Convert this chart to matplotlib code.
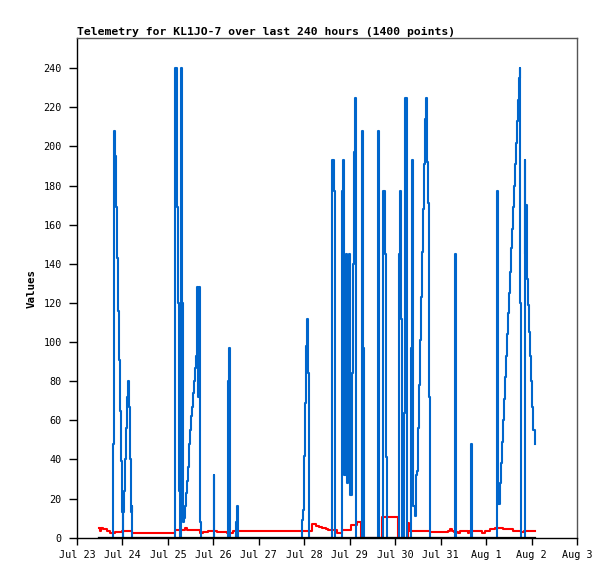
import datetime as dt
import matplotlib
matplotlib.use("Agg")
import matplotlib.pyplot as plt
import matplotlib.dates as mdates
from matplotlib.ticker import FuncFormatter, MultipleLocator

# time offsets in days from Jul 23 00:00
blue_days = [0.49, 0.799, 0.807, 0.821, 0.843, 0.865, 0.887, 0.909, 0.931, 0.953, 0.975, 0.99,
             1.005, 1.019, 1.041, 1.063, 1.085, 1.107, 1.129, 1.151, 1.166, 1.188, 1.203, 1.217,
             2.164, 2.193, 2.208, 2.222, 2.237, 2.252, 2.273, 2.288, 2.31, 2.332, 2.354, 2.376,
             2.398, 2.42, 2.435, 2.457, 2.472, 2.494, 2.516, 2.53, 2.552, 2.574, 2.589, 2.611,
             2.633, 2.662, 2.677, 2.699, 2.713, 2.728,
             3.007, 3.02, 3.33, 3.352, 3.374, 3.506, 3.528, 3.55,
             4.958, 4.98, 4.994, 5.016, 5.031, 5.053, 5.075, 5.097, 5.112,
             5.618, 5.647, 5.684, 5.838, 5.86, 5.882, 5.911, 5.933, 5.955, 5.977, 5.999, 6.029,
             6.051, 6.073, 6.095, 6.117, 6.139, 6.271, 6.3, 6.322, 6.63, 6.652,
             6.74, 6.77, 6.791, 6.813, 7.077, 7.099, 7.129, 7.151, 7.202, 7.224, 7.253, 7.268,
             7.356, 7.378, 7.4, 7.429, 7.451, 7.473, 7.503, 7.525, 7.547, 7.569, 7.591, 7.613,
             7.635, 7.657, 7.671, 7.693, 7.708, 7.73, 7.752, 7.774,
             8.31, 8.331, 8.662, 8.684, 8.698,
             9.234, 9.256, 9.285, 9.307, 9.322, 9.344, 9.366, 9.388, 9.41, 9.432, 9.454, 9.476,
             9.498, 9.52, 9.542, 9.564, 9.586, 9.608, 9.63, 9.652, 9.674, 9.696, 9.718, 9.74,
             9.754, 9.776, 9.85, 9.864, 9.879, 9.894, 9.908, 9.93, 9.952, 9.974, 9.996, 10.018,
             10.04, 10.07, 10.08]
blue_vals = [0, 48, 193, 208, 195, 169, 143, 116, 91, 65, 39, 13,
             0, 13, 24, 40, 56, 72, 80, 67, 40, 13, 16, 0,
             240, 217, 169, 120, 72, 24, 0, 240, 120, 8, 10, 16,
             23, 29, 36, 41, 48, 55, 62, 67, 74, 80, 87, 93,
             128, 72, 128, 112, 8, 0,
             32, 0, 80, 97, 0, 8, 16, 0,
             9, 14, 42, 69, 98, 112, 84, 28, 0,
             193, 177, 0, 177, 193, 32, 145, 28, 128, 145, 22, 22,
             84, 140, 197, 225, 0, 208, 97, 0, 208, 0,
             177, 145, 41, 0, 145, 177, 112, 0, 64, 225, 145, 0,
             97, 193, 16, 11, 32, 34, 56, 78, 101, 123, 146, 168,
             191, 214, 225, 214, 192, 171, 72, 0,
             145, 0, 48, 25, 0,
             177, 17, 17, 28, 38, 49, 60, 71, 82, 93, 104, 115,
             125, 136, 148, 158, 169, 180, 191, 202, 213, 224, 235, 240,
             120, 0, 193, 145, 170, 157, 132, 119, 105, 93, 80, 67,
             55, 48, 48]

red_days = [0.49, 0.51, 0.53, 0.57, 0.65, 0.73, 0.84, 0.98, 1.20, 2.16, 2.38, 2.41, 2.71,
            2.78, 2.89, 3.07, 3.29, 3.44, 3.59, 5.18, 5.26, 5.33, 5.40, 5.47, 5.52, 5.71,
            5.82, 6.02, 6.16, 6.24, 6.71, 7.07, 7.29, 7.31, 7.77, 8.17, 8.21, 8.25, 8.3,
            8.39, 8.42, 8.6, 8.63, 8.92, 8.98, 9.09, 9.2, 9.38, 9.6, 9.77, 9.84, 10.08]
red_vals = [4.8, 3.3, 4.8, 4.4, 3.6, 2.6, 3.1, 3.6, 2.6, 3.9, 4.8, 3.9, 2.6,
            3.1, 3.6, 3.1, 2.6, 3.3, 3.6, 6.8, 6.2, 5.6, 5.0, 4.4, 3.9, 2.5,
            4.0, 6.5, 8.2, 0, 10.8, 0, 7.5, 3.6, 2.8, 3.6, 4.5, 3.6, 3.1,
            2.4, 3.6, 2.6, 3.6, 2.4, 3.6, 4.3, 5.2, 4.3, 3.6, 3.1, 3.6, 3.6]

black_days = [0.49, 10.08]
black_vals = [0, 0]

x_tick_labels = ["Jul 23", "Jul 24", "Jul 25", "Jul 26", "Jul 27", "Jul 28", "Jul 29",
                 "Jul 30", "Jul 31", "Aug 1", "Aug 2", "Aug 3"]

base = mdates.date2num(dt.datetime(2023, 7, 23))

def to_dates(days):
    return [base + d for d in days]

mono = "DejaVu Sans Mono"
fig = plt.figure(figsize=(6.15, 5.79), dpi=100)
ax = fig.add_axes([77 / 615, (579 - 537.7) / 579, 500 / 615, (537.7 - 38.3) / 579])

ax.plot(to_dates(red_days), red_vals, color="#ff0000", lw=1.5, drawstyle="steps-post", zorder=2)
ax.plot(to_dates(blue_days), blue_vals, color="#0066cc", lw=1.5, drawstyle="steps-post", zorder=3)
ax.plot(to_dates(black_days), black_vals, color="#000000", lw=1.6, zorder=4)

ax.set_xlim(base, base + 11)
ax.set_ylim(0, 255.3)
ax.set_xticks([base + i for i in range(len(x_tick_labels))])
ax.set_xticklabels(x_tick_labels)
ax.yaxis.set_major_locator(MultipleLocator(20))
ax.set_yticks(range(0, 241, 20))

for lab in ax.get_xticklabels() + ax.get_yticklabels():
    lab.set_fontfamily(mono)
    lab.set_fontsize(7.3)
ax.tick_params(axis="x", direction="out", length=5, width=1, pad=4, colors="black")
ax.tick_params(axis="y", direction="out", length=5.8, width=1, pad=5.2, colors="black")

for side in ["left", "bottom"]:
    ax.spines[side].set_color("black")
    ax.spines[side].set_linewidth(1)
for side in ["top", "right"]:
    ax.spines[side].set_color("#555555")
    ax.spines[side].set_linewidth(1)

ax.set_title("Telemetry for KL1JO-7 over last 240 hours (1400 points)", loc="left",
             fontfamily=mono, fontweight="bold", fontsize=8.2, pad=2.5)
ax.set_ylabel("Values", fontfamily=mono, fontweight="bold", fontsize=7.8, labelpad=5)

fig.savefig("out.png", dpi=100)
